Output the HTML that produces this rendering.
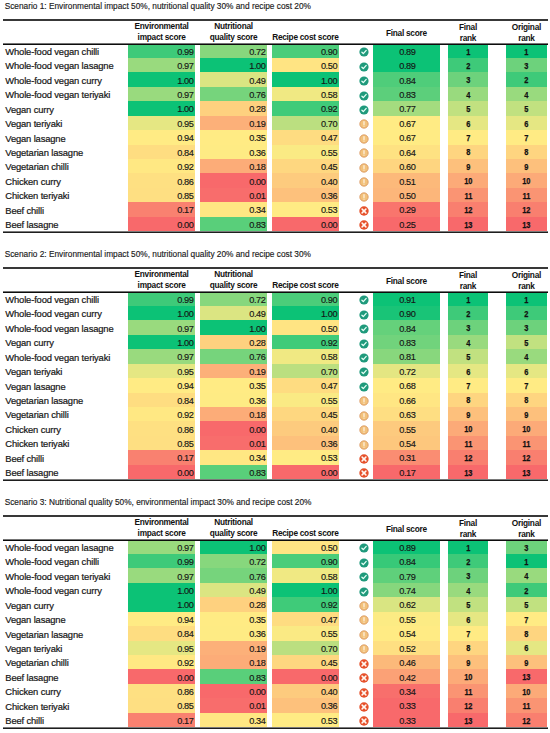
<!DOCTYPE html>
<html><head><meta charset="utf-8"><style>
html,body{margin:0;padding:0;background:#fff;}
body{width:550px;height:733px;position:relative;overflow:hidden;font-family:"Liberation Sans",sans-serif;color:#1a1a1a;}
.a{position:absolute;}
.t{position:absolute;white-space:nowrap;line-height:1;}
.title{font-size:8.3px;color:#1a1a1a;letter-spacing:0px;-webkit-text-stroke:0.15px #1a1a1a;}
.rule{position:absolute;left:3px;width:544.5px;background:#262626;}
.hd{font-size:8.3px;font-weight:bold;text-align:center;color:#111;letter-spacing:-0.27px;}
.nm{font-size:9.4px;color:#151515;letter-spacing:-0.14px;-webkit-text-stroke:0.2px #151515;}
.num{font-size:9.2px;letter-spacing:-0.42px;color:#151515;-webkit-text-stroke:0.15px #151515;}
.rk{font-size:9.3px;font-weight:bold;letter-spacing:-0.2px;color:#111;transform:scaleX(0.8);transform-origin:50% 50%;-webkit-text-stroke:0.25px #111;}
.cell{position:absolute;}
.ic{position:absolute;width:10px;height:10px;}
.ic svg{display:block;}
</style></head><body>

<div class="t title" style="left:4.7px;top:2.17px">Scenario 1: Environmental impact 50%, nutritional quality 30% and recipe cost 20%</div>
<div class="rule" style="top:19px;height:2px;background:#383838"></div>
<div class="t hd" style="left:117.7px;width:87.8px;top:21.57px">Environmental</div>
<div class="t hd" style="left:117.7px;width:87.8px;top:32.77px">impact score</div>
<div class="t hd" style="left:189.8px;width:87.6px;top:21.57px">Nutritional</div>
<div class="t hd" style="left:189.8px;width:87.6px;top:32.77px">quality score</div>
<div class="t hd" style="left:261.7px;width:87.4px;top:33.07px">Recipe cost score</div>
<div class="t hd" style="left:362.7px;width:87.4px;top:28.57px">Final score</div>
<div class="t hd" style="left:437.6px;width:60.7px;top:23.07px">Final</div>
<div class="t hd" style="left:437.6px;width:60.7px;top:34.07px">rank</div>
<div class="t hd" style="left:496.1px;width:60.7px;top:23.07px">Original</div>
<div class="t hd" style="left:496.1px;width:60.7px;top:34.07px">rank</div>
<div class="t nm" style="left:5.3px;top:47.06px">Whole-food vegan chilli</div>
<div class="cell" style="left:127.7px;width:67.8px;top:43.6px;height:14.42px;background:rgb(62,202,121)"></div>
<div class="t num" style="left:127.7px;width:65.8px;top:47.73px;text-align:right">0.99</div>
<div class="cell" style="left:199.8px;width:67.6px;top:43.6px;height:14.42px;background:rgb(135,215,125)"></div>
<div class="t num" style="left:199.8px;width:65.6px;top:47.73px;text-align:right">0.72</div>
<div class="cell" style="left:271.7px;width:67.4px;top:43.6px;height:14.42px;background:rgb(75,205,122)"></div>
<div class="t num" style="left:271.7px;width:65.4px;top:47.73px;text-align:right">0.90</div>
<div class="ic" style="left:359.3px;top:47.31px"><svg width="10" height="10" viewBox="0 0 10 10"><circle cx="5" cy="5" r="4.6" fill="#1f9a7c"/><path d="M2.9 5.3 L4.3 6.6 L7.2 3.4" stroke="#e6fff6" stroke-width="1.3" fill="none" stroke-linecap="round" stroke-linejoin="round"/></svg></div>
<div class="cell" style="left:372.7px;width:67.4px;top:43.6px;height:14.42px;background:rgb(12,194,118)"></div>
<div class="t num" style="left:373.7px;width:67.4px;top:47.73px;text-align:center">0.89</div>
<div class="cell" style="left:447.6px;width:40.7px;top:43.6px;height:14.42px;background:rgb(12,194,118)"></div>
<div class="t rk" style="left:447.6px;width:40.7px;top:47.55px;text-align:center">1</div>
<div class="cell" style="left:506.1px;width:40.7px;top:43.6px;height:14.42px;background:rgb(12,194,118)"></div>
<div class="t rk" style="left:506.1px;width:40.7px;top:47.55px;text-align:center">1</div>
<div class="t nm" style="left:5.3px;top:61.48px">Whole-food vegan lasagne</div>
<div class="cell" style="left:127.7px;width:67.8px;top:58.02px;height:14.42px;background:rgb(153,218,126)"></div>
<div class="t num" style="left:127.7px;width:65.8px;top:62.15px;text-align:right">0.97</div>
<div class="cell" style="left:199.8px;width:67.6px;top:58.02px;height:14.42px;background:rgb(12,194,118)"></div>
<div class="t num" style="left:199.8px;width:65.6px;top:62.15px;text-align:right">1.00</div>
<div class="cell" style="left:271.7px;width:67.4px;top:58.02px;height:14.42px;background:rgb(255,228,131)"></div>
<div class="t num" style="left:271.7px;width:65.4px;top:62.15px;text-align:right">0.50</div>
<div class="ic" style="left:359.3px;top:61.73px"><svg width="10" height="10" viewBox="0 0 10 10"><circle cx="5" cy="5" r="4.6" fill="#1f9a7c"/><path d="M2.9 5.3 L4.3 6.6 L7.2 3.4" stroke="#e6fff6" stroke-width="1.3" fill="none" stroke-linecap="round" stroke-linejoin="round"/></svg></div>
<div class="cell" style="left:372.7px;width:67.4px;top:58.02px;height:14.42px;background:rgb(12,194,118)"></div>
<div class="t num" style="left:373.7px;width:67.4px;top:62.15px;text-align:center">0.89</div>
<div class="cell" style="left:447.6px;width:40.7px;top:58.02px;height:14.42px;background:rgb(62,202,121)"></div>
<div class="t rk" style="left:447.6px;width:40.7px;top:61.97px;text-align:center">2</div>
<div class="cell" style="left:506.1px;width:40.7px;top:58.02px;height:14.42px;background:rgb(109,210,124)"></div>
<div class="t rk" style="left:506.1px;width:40.7px;top:61.97px;text-align:center">3</div>
<div class="t nm" style="left:5.3px;top:75.9px">Whole-food vegan curry</div>
<div class="cell" style="left:127.7px;width:67.8px;top:72.44px;height:14.42px;background:rgb(12,194,118)"></div>
<div class="t num" style="left:127.7px;width:65.8px;top:76.57px;text-align:right">1.00</div>
<div class="cell" style="left:199.8px;width:67.6px;top:72.44px;height:14.42px;background:rgb(219,229,130)"></div>
<div class="t num" style="left:199.8px;width:65.6px;top:76.57px;text-align:right">0.49</div>
<div class="cell" style="left:271.7px;width:67.4px;top:72.44px;height:14.42px;background:rgb(12,194,118)"></div>
<div class="t num" style="left:271.7px;width:65.4px;top:76.57px;text-align:right">1.00</div>
<div class="ic" style="left:359.3px;top:76.15px"><svg width="10" height="10" viewBox="0 0 10 10"><circle cx="5" cy="5" r="4.6" fill="#1f9a7c"/><path d="M2.9 5.3 L4.3 6.6 L7.2 3.4" stroke="#e6fff6" stroke-width="1.3" fill="none" stroke-linecap="round" stroke-linejoin="round"/></svg></div>
<div class="cell" style="left:372.7px;width:67.4px;top:72.44px;height:14.42px;background:rgb(79,205,122)"></div>
<div class="t num" style="left:373.7px;width:67.4px;top:76.57px;text-align:center">0.84</div>
<div class="cell" style="left:447.6px;width:40.7px;top:72.44px;height:14.42px;background:rgb(109,210,124)"></div>
<div class="t rk" style="left:447.6px;width:40.7px;top:76.39px;text-align:center">3</div>
<div class="cell" style="left:506.1px;width:40.7px;top:72.44px;height:14.42px;background:rgb(62,202,121)"></div>
<div class="t rk" style="left:506.1px;width:40.7px;top:76.39px;text-align:center">2</div>
<div class="t nm" style="left:5.3px;top:90.32px">Whole-food vegan teriyaki</div>
<div class="cell" style="left:127.7px;width:67.8px;top:86.86px;height:14.42px;background:rgb(153,218,126)"></div>
<div class="t num" style="left:127.7px;width:65.8px;top:90.99px;text-align:right">0.97</div>
<div class="cell" style="left:199.8px;width:67.6px;top:86.86px;height:14.42px;background:rgb(118,212,124)"></div>
<div class="t num" style="left:199.8px;width:65.6px;top:90.99px;text-align:right">0.76</div>
<div class="cell" style="left:271.7px;width:67.4px;top:86.86px;height:14.42px;background:rgb(240,233,131)"></div>
<div class="t num" style="left:271.7px;width:65.4px;top:90.99px;text-align:right">0.58</div>
<div class="ic" style="left:359.3px;top:90.57px"><svg width="10" height="10" viewBox="0 0 10 10"><circle cx="5" cy="5" r="4.6" fill="#1f9a7c"/><path d="M2.9 5.3 L4.3 6.6 L7.2 3.4" stroke="#e6fff6" stroke-width="1.3" fill="none" stroke-linecap="round" stroke-linejoin="round"/></svg></div>
<div class="cell" style="left:372.7px;width:67.4px;top:86.86px;height:14.42px;background:rgb(92,207,123)"></div>
<div class="t num" style="left:373.7px;width:67.4px;top:90.99px;text-align:center">0.83</div>
<div class="cell" style="left:447.6px;width:40.7px;top:86.86px;height:14.42px;background:rgb(153,218,126)"></div>
<div class="t rk" style="left:447.6px;width:40.7px;top:90.81px;text-align:center">4</div>
<div class="cell" style="left:506.1px;width:40.7px;top:86.86px;height:14.42px;background:rgb(153,218,126)"></div>
<div class="t rk" style="left:506.1px;width:40.7px;top:90.81px;text-align:center">4</div>
<div class="t nm" style="left:5.3px;top:104.74px">Vegan curry</div>
<div class="cell" style="left:127.7px;width:67.8px;top:101.28px;height:14.42px;background:rgb(12,194,118)"></div>
<div class="t num" style="left:127.7px;width:65.8px;top:105.41px;text-align:right">1.00</div>
<div class="cell" style="left:199.8px;width:67.6px;top:101.28px;height:14.42px;background:rgb(254,209,127)"></div>
<div class="t num" style="left:199.8px;width:65.6px;top:105.41px;text-align:right">0.28</div>
<div class="cell" style="left:271.7px;width:67.4px;top:101.28px;height:14.42px;background:rgb(63,203,121)"></div>
<div class="t num" style="left:271.7px;width:65.4px;top:105.41px;text-align:right">0.92</div>
<div class="ic" style="left:359.3px;top:104.99px"><svg width="10" height="10" viewBox="0 0 10 10"><circle cx="5" cy="5" r="4.6" fill="#1f9a7c"/><path d="M2.9 5.3 L4.3 6.6 L7.2 3.4" stroke="#e6fff6" stroke-width="1.3" fill="none" stroke-linecap="round" stroke-linejoin="round"/></svg></div>
<div class="cell" style="left:372.7px;width:67.4px;top:101.28px;height:14.42px;background:rgb(164,220,127)"></div>
<div class="t num" style="left:373.7px;width:67.4px;top:105.41px;text-align:center">0.77</div>
<div class="cell" style="left:447.6px;width:40.7px;top:101.28px;height:14.42px;background:rgb(193,225,128)"></div>
<div class="t rk" style="left:447.6px;width:40.7px;top:105.23px;text-align:center">5</div>
<div class="cell" style="left:506.1px;width:40.7px;top:101.28px;height:14.42px;background:rgb(193,225,128)"></div>
<div class="t rk" style="left:506.1px;width:40.7px;top:105.23px;text-align:center">5</div>
<div class="t nm" style="left:5.3px;top:119.16px">Vegan teriyaki</div>
<div class="cell" style="left:127.7px;width:67.8px;top:115.7px;height:14.42px;background:rgb(229,231,131)"></div>
<div class="t num" style="left:127.7px;width:65.8px;top:119.83px;text-align:right">0.95</div>
<div class="cell" style="left:199.8px;width:67.6px;top:115.7px;height:14.42px;background:rgb(252,176,121)"></div>
<div class="t num" style="left:199.8px;width:65.6px;top:119.83px;text-align:right">0.19</div>
<div class="cell" style="left:271.7px;width:67.4px;top:115.7px;height:14.42px;background:rgb(187,223,128)"></div>
<div class="t num" style="left:271.7px;width:65.4px;top:119.83px;text-align:right">0.70</div>
<div class="ic" style="left:359.3px;top:119.41px"><svg width="10" height="10" viewBox="0 0 10 10"><circle cx="5" cy="5" r="4.2" fill="#f2c27c" stroke="#d8935a" stroke-width="0.8"/><path d="M5 2.7 L5 5.5" stroke="#fff3e6" stroke-width="1.2" stroke-linecap="round"/><circle cx="5" cy="7.1" r="0.65" fill="#fff3e6"/></svg></div>
<div class="cell" style="left:372.7px;width:67.4px;top:115.7px;height:14.42px;background:rgb(255,235,132)"></div>
<div class="t num" style="left:373.7px;width:67.4px;top:119.83px;text-align:center">0.67</div>
<div class="cell" style="left:447.6px;width:40.7px;top:115.7px;height:14.42px;background:rgb(229,231,131)"></div>
<div class="t rk" style="left:447.6px;width:40.7px;top:119.65px;text-align:center">6</div>
<div class="cell" style="left:506.1px;width:40.7px;top:115.7px;height:14.42px;background:rgb(229,231,131)"></div>
<div class="t rk" style="left:506.1px;width:40.7px;top:119.65px;text-align:center">6</div>
<div class="t nm" style="left:5.3px;top:133.58px">Vegan lasagne</div>
<div class="cell" style="left:127.7px;width:67.8px;top:130.12px;height:14.42px;background:rgb(255,235,132)"></div>
<div class="t num" style="left:127.7px;width:65.8px;top:134.25px;text-align:right">0.94</div>
<div class="cell" style="left:199.8px;width:67.6px;top:130.12px;height:14.42px;background:rgb(255,235,132)"></div>
<div class="t num" style="left:199.8px;width:65.6px;top:134.25px;text-align:right">0.35</div>
<div class="cell" style="left:271.7px;width:67.4px;top:130.12px;height:14.42px;background:rgb(254,220,129)"></div>
<div class="t num" style="left:271.7px;width:65.4px;top:134.25px;text-align:right">0.47</div>
<div class="ic" style="left:359.3px;top:133.83px"><svg width="10" height="10" viewBox="0 0 10 10"><circle cx="5" cy="5" r="4.2" fill="#f2c27c" stroke="#d8935a" stroke-width="0.8"/><path d="M5 2.7 L5 5.5" stroke="#fff3e6" stroke-width="1.2" stroke-linecap="round"/><circle cx="5" cy="7.1" r="0.65" fill="#fff3e6"/></svg></div>
<div class="cell" style="left:372.7px;width:67.4px;top:130.12px;height:14.42px;background:rgb(255,235,132)"></div>
<div class="t num" style="left:373.7px;width:67.4px;top:134.25px;text-align:center">0.67</div>
<div class="cell" style="left:447.6px;width:40.7px;top:130.12px;height:14.42px;background:rgb(255,235,132)"></div>
<div class="t rk" style="left:447.6px;width:40.7px;top:134.07px;text-align:center">7</div>
<div class="cell" style="left:506.1px;width:40.7px;top:130.12px;height:14.42px;background:rgb(255,235,132)"></div>
<div class="t rk" style="left:506.1px;width:40.7px;top:134.07px;text-align:center">7</div>
<div class="t nm" style="left:5.3px;top:148px">Vegetarian lasagne</div>
<div class="cell" style="left:127.7px;width:67.8px;top:144.54px;height:14.42px;background:rgb(254,221,129)"></div>
<div class="t num" style="left:127.7px;width:65.8px;top:148.67px;text-align:right">0.84</div>
<div class="cell" style="left:199.8px;width:67.6px;top:144.54px;height:14.42px;background:rgb(254,235,132)"></div>
<div class="t num" style="left:199.8px;width:65.6px;top:148.67px;text-align:right">0.36</div>
<div class="cell" style="left:271.7px;width:67.4px;top:144.54px;height:14.42px;background:rgb(250,234,132)"></div>
<div class="t num" style="left:271.7px;width:65.4px;top:148.67px;text-align:right">0.55</div>
<div class="ic" style="left:359.3px;top:148.25px"><svg width="10" height="10" viewBox="0 0 10 10"><circle cx="5" cy="5" r="4.2" fill="#f2c27c" stroke="#d8935a" stroke-width="0.8"/><path d="M5 2.7 L5 5.5" stroke="#fff3e6" stroke-width="1.2" stroke-linecap="round"/><circle cx="5" cy="7.1" r="0.65" fill="#fff3e6"/></svg></div>
<div class="cell" style="left:372.7px;width:67.4px;top:144.54px;height:14.42px;background:rgb(254,226,130)"></div>
<div class="t num" style="left:373.7px;width:67.4px;top:148.67px;text-align:center">0.64</div>
<div class="cell" style="left:447.6px;width:40.7px;top:144.54px;height:14.42px;background:rgb(254,213,128)"></div>
<div class="t rk" style="left:447.6px;width:40.7px;top:148.49px;text-align:center">8</div>
<div class="cell" style="left:506.1px;width:40.7px;top:144.54px;height:14.42px;background:rgb(254,213,128)"></div>
<div class="t rk" style="left:506.1px;width:40.7px;top:148.49px;text-align:center">8</div>
<div class="t nm" style="left:5.3px;top:162.42px">Vegetarian chilli</div>
<div class="cell" style="left:127.7px;width:67.8px;top:158.96px;height:14.42px;background:rgb(255,232,131)"></div>
<div class="t num" style="left:127.7px;width:65.8px;top:163.09px;text-align:right">0.92</div>
<div class="cell" style="left:199.8px;width:67.6px;top:158.96px;height:14.42px;background:rgb(252,172,120)"></div>
<div class="t num" style="left:199.8px;width:65.6px;top:163.09px;text-align:right">0.18</div>
<div class="cell" style="left:271.7px;width:67.4px;top:158.96px;height:14.42px;background:rgb(254,215,128)"></div>
<div class="t num" style="left:271.7px;width:65.4px;top:163.09px;text-align:right">0.45</div>
<div class="ic" style="left:359.3px;top:162.67px"><svg width="10" height="10" viewBox="0 0 10 10"><circle cx="5" cy="5" r="4.2" fill="#f2c27c" stroke="#d8935a" stroke-width="0.8"/><path d="M5 2.7 L5 5.5" stroke="#fff3e6" stroke-width="1.2" stroke-linecap="round"/><circle cx="5" cy="7.1" r="0.65" fill="#fff3e6"/></svg></div>
<div class="cell" style="left:372.7px;width:67.4px;top:158.96px;height:14.42px;background:rgb(254,213,128)"></div>
<div class="t num" style="left:373.7px;width:67.4px;top:163.09px;text-align:center">0.60</div>
<div class="cell" style="left:447.6px;width:40.7px;top:158.96px;height:14.42px;background:rgb(253,192,124)"></div>
<div class="t rk" style="left:447.6px;width:40.7px;top:162.91px;text-align:center">9</div>
<div class="cell" style="left:506.1px;width:40.7px;top:158.96px;height:14.42px;background:rgb(253,192,124)"></div>
<div class="t rk" style="left:506.1px;width:40.7px;top:162.91px;text-align:center">9</div>
<div class="t nm" style="left:5.3px;top:176.84px">Chicken curry</div>
<div class="cell" style="left:127.7px;width:67.8px;top:173.38px;height:14.42px;background:rgb(254,224,130)"></div>
<div class="t num" style="left:127.7px;width:65.8px;top:177.51px;text-align:right">0.86</div>
<div class="cell" style="left:199.8px;width:67.6px;top:173.38px;height:14.42px;background:rgb(248,105,107)"></div>
<div class="t num" style="left:199.8px;width:65.6px;top:177.51px;text-align:right">0.00</div>
<div class="cell" style="left:271.7px;width:67.4px;top:173.38px;height:14.42px;background:rgb(253,203,126)"></div>
<div class="t num" style="left:271.7px;width:65.4px;top:177.51px;text-align:right">0.40</div>
<div class="ic" style="left:359.3px;top:177.09px"><svg width="10" height="10" viewBox="0 0 10 10"><circle cx="5" cy="5" r="4.2" fill="#f2c27c" stroke="#d8935a" stroke-width="0.8"/><path d="M5 2.7 L5 5.5" stroke="#fff3e6" stroke-width="1.2" stroke-linecap="round"/><circle cx="5" cy="7.1" r="0.65" fill="#fff3e6"/></svg></div>
<div class="cell" style="left:372.7px;width:67.4px;top:173.38px;height:14.42px;background:rgb(252,185,122)"></div>
<div class="t num" style="left:373.7px;width:67.4px;top:177.51px;text-align:center">0.51</div>
<div class="cell" style="left:447.6px;width:40.7px;top:173.38px;height:14.42px;background:rgb(252,170,120)"></div>
<div class="t rk" style="left:447.6px;width:40.7px;top:177.33px;text-align:center">10</div>
<div class="cell" style="left:506.1px;width:40.7px;top:173.38px;height:14.42px;background:rgb(252,170,120)"></div>
<div class="t rk" style="left:506.1px;width:40.7px;top:177.33px;text-align:center">10</div>
<div class="t nm" style="left:5.3px;top:191.26px">Chicken teriyaki</div>
<div class="cell" style="left:127.7px;width:67.8px;top:187.8px;height:14.42px;background:rgb(254,223,130)"></div>
<div class="t num" style="left:127.7px;width:65.8px;top:191.93px;text-align:right">0.85</div>
<div class="cell" style="left:199.8px;width:67.6px;top:187.8px;height:14.42px;background:rgb(248,109,108)"></div>
<div class="t num" style="left:199.8px;width:65.6px;top:191.93px;text-align:right">0.01</div>
<div class="cell" style="left:271.7px;width:67.4px;top:187.8px;height:14.42px;background:rgb(253,193,124)"></div>
<div class="t num" style="left:271.7px;width:65.4px;top:191.93px;text-align:right">0.36</div>
<div class="ic" style="left:359.3px;top:191.51px"><svg width="10" height="10" viewBox="0 0 10 10"><circle cx="5" cy="5" r="4.2" fill="#f2c27c" stroke="#d8935a" stroke-width="0.8"/><path d="M5 2.7 L5 5.5" stroke="#fff3e6" stroke-width="1.2" stroke-linecap="round"/><circle cx="5" cy="7.1" r="0.65" fill="#fff3e6"/></svg></div>
<div class="cell" style="left:372.7px;width:67.4px;top:187.8px;height:14.42px;background:rgb(252,182,122)"></div>
<div class="t num" style="left:373.7px;width:67.4px;top:191.93px;text-align:center">0.50</div>
<div class="cell" style="left:447.6px;width:40.7px;top:187.8px;height:14.42px;background:rgb(250,148,115)"></div>
<div class="t rk" style="left:447.6px;width:40.7px;top:191.75px;text-align:center">11</div>
<div class="cell" style="left:506.1px;width:40.7px;top:187.8px;height:14.42px;background:rgb(250,148,115)"></div>
<div class="t rk" style="left:506.1px;width:40.7px;top:191.75px;text-align:center">11</div>
<div class="t nm" style="left:5.3px;top:205.68px">Beef chilli</div>
<div class="cell" style="left:127.7px;width:67.8px;top:202.22px;height:14.42px;background:rgb(249,129,112)"></div>
<div class="t num" style="left:127.7px;width:65.8px;top:206.35px;text-align:right">0.17</div>
<div class="cell" style="left:199.8px;width:67.6px;top:202.22px;height:14.42px;background:rgb(255,231,131)"></div>
<div class="t num" style="left:199.8px;width:65.6px;top:206.35px;text-align:right">0.34</div>
<div class="cell" style="left:271.7px;width:67.4px;top:202.22px;height:14.42px;background:rgb(255,235,132)"></div>
<div class="t num" style="left:271.7px;width:65.4px;top:206.35px;text-align:right">0.53</div>
<div class="ic" style="left:359.3px;top:205.93px"><svg width="10" height="10" viewBox="0 0 10 10"><circle cx="5" cy="5" r="4.7" fill="#e6512b"/><path d="M3.1 3.1 L6.9 6.9 M6.9 3.1 L3.1 6.9" stroke="#fff8f2" stroke-width="1.5" stroke-linecap="round"/></svg></div>
<div class="cell" style="left:372.7px;width:67.4px;top:202.22px;height:14.42px;background:rgb(249,117,109)"></div>
<div class="t num" style="left:373.7px;width:67.4px;top:206.35px;text-align:center">0.29</div>
<div class="cell" style="left:447.6px;width:40.7px;top:202.22px;height:14.42px;background:rgb(249,127,111)"></div>
<div class="t rk" style="left:447.6px;width:40.7px;top:206.17px;text-align:center">12</div>
<div class="cell" style="left:506.1px;width:40.7px;top:202.22px;height:14.42px;background:rgb(249,127,111)"></div>
<div class="t rk" style="left:506.1px;width:40.7px;top:206.17px;text-align:center">12</div>
<div class="t nm" style="left:5.3px;top:220.1px">Beef lasagne</div>
<div class="cell" style="left:127.7px;width:67.8px;top:216.64px;height:14.42px;background:rgb(248,105,107)"></div>
<div class="t num" style="left:127.7px;width:65.8px;top:220.77px;text-align:right">0.00</div>
<div class="cell" style="left:199.8px;width:67.6px;top:216.64px;height:14.42px;background:rgb(89,207,122)"></div>
<div class="t num" style="left:199.8px;width:65.6px;top:220.77px;text-align:right">0.83</div>
<div class="cell" style="left:271.7px;width:67.4px;top:216.64px;height:14.42px;background:rgb(248,105,107)"></div>
<div class="t num" style="left:271.7px;width:65.4px;top:220.77px;text-align:right">0.00</div>
<div class="ic" style="left:359.3px;top:220.35px"><svg width="10" height="10" viewBox="0 0 10 10"><circle cx="5" cy="5" r="4.7" fill="#e6512b"/><path d="M3.1 3.1 L6.9 6.9 M6.9 3.1 L3.1 6.9" stroke="#fff8f2" stroke-width="1.5" stroke-linecap="round"/></svg></div>
<div class="cell" style="left:372.7px;width:67.4px;top:216.64px;height:14.42px;background:rgb(248,105,107)"></div>
<div class="t num" style="left:373.7px;width:67.4px;top:220.77px;text-align:center">0.25</div>
<div class="cell" style="left:447.6px;width:40.7px;top:216.64px;height:14.42px;background:rgb(248,105,107)"></div>
<div class="t rk" style="left:447.6px;width:40.7px;top:220.59px;text-align:center">13</div>
<div class="cell" style="left:506.1px;width:40.7px;top:216.64px;height:14.42px;background:rgb(248,105,107)"></div>
<div class="t rk" style="left:506.1px;width:40.7px;top:220.59px;text-align:center">13</div>
<div class="rule" style="top:43px;height:1px;background:#747474"></div>
<div class="rule" style="top:44px;height:1px;background:#0c0c0c"></div>
<div class="rule" style="top:231px;height:1px;background:#7a7a7a"></div>
<div class="rule" style="top:232px;height:1px;background:#1e1e1e"></div>
<div class="t title" style="left:4.7px;top:250.17px">Scenario 2: Environmental impact 50%, nutritional quality 20% and recipe cost 30%</div>
<div class="rule" style="top:267px;height:2px;background:#383838"></div>
<div class="t hd" style="left:117.7px;width:87.8px;top:269.57px">Environmental</div>
<div class="t hd" style="left:117.7px;width:87.8px;top:280.77px">impact score</div>
<div class="t hd" style="left:189.8px;width:87.6px;top:269.57px">Nutritional</div>
<div class="t hd" style="left:189.8px;width:87.6px;top:280.77px">quality score</div>
<div class="t hd" style="left:261.7px;width:87.4px;top:281.07px">Recipe cost score</div>
<div class="t hd" style="left:362.7px;width:87.4px;top:276.57px">Final score</div>
<div class="t hd" style="left:437.6px;width:60.7px;top:271.07px">Final</div>
<div class="t hd" style="left:437.6px;width:60.7px;top:282.07px">rank</div>
<div class="t hd" style="left:496.1px;width:60.7px;top:271.07px">Original</div>
<div class="t hd" style="left:496.1px;width:60.7px;top:282.07px">rank</div>
<div class="t nm" style="left:5.3px;top:295.06px">Whole-food vegan chilli</div>
<div class="cell" style="left:127.7px;width:67.8px;top:291.6px;height:14.42px;background:rgb(62,202,121)"></div>
<div class="t num" style="left:127.7px;width:65.8px;top:295.73px;text-align:right">0.99</div>
<div class="cell" style="left:199.8px;width:67.6px;top:291.6px;height:14.42px;background:rgb(135,215,125)"></div>
<div class="t num" style="left:199.8px;width:65.6px;top:295.73px;text-align:right">0.72</div>
<div class="cell" style="left:271.7px;width:67.4px;top:291.6px;height:14.42px;background:rgb(75,205,122)"></div>
<div class="t num" style="left:271.7px;width:65.4px;top:295.73px;text-align:right">0.90</div>
<div class="ic" style="left:359.3px;top:295.31px"><svg width="10" height="10" viewBox="0 0 10 10"><circle cx="5" cy="5" r="4.6" fill="#1f9a7c"/><path d="M2.9 5.3 L4.3 6.6 L7.2 3.4" stroke="#e6fff6" stroke-width="1.3" fill="none" stroke-linecap="round" stroke-linejoin="round"/></svg></div>
<div class="cell" style="left:372.7px;width:67.4px;top:291.6px;height:14.42px;background:rgb(12,194,118)"></div>
<div class="t num" style="left:373.7px;width:67.4px;top:295.73px;text-align:center">0.91</div>
<div class="cell" style="left:447.6px;width:40.7px;top:291.6px;height:14.42px;background:rgb(12,194,118)"></div>
<div class="t rk" style="left:447.6px;width:40.7px;top:295.55px;text-align:center">1</div>
<div class="cell" style="left:506.1px;width:40.7px;top:291.6px;height:14.42px;background:rgb(12,194,118)"></div>
<div class="t rk" style="left:506.1px;width:40.7px;top:295.55px;text-align:center">1</div>
<div class="t nm" style="left:5.3px;top:309.48px">Whole-food vegan curry</div>
<div class="cell" style="left:127.7px;width:67.8px;top:306.02px;height:14.42px;background:rgb(12,194,118)"></div>
<div class="t num" style="left:127.7px;width:65.8px;top:310.15px;text-align:right">1.00</div>
<div class="cell" style="left:199.8px;width:67.6px;top:306.02px;height:14.42px;background:rgb(219,229,130)"></div>
<div class="t num" style="left:199.8px;width:65.6px;top:310.15px;text-align:right">0.49</div>
<div class="cell" style="left:271.7px;width:67.4px;top:306.02px;height:14.42px;background:rgb(12,194,118)"></div>
<div class="t num" style="left:271.7px;width:65.4px;top:310.15px;text-align:right">1.00</div>
<div class="ic" style="left:359.3px;top:309.73px"><svg width="10" height="10" viewBox="0 0 10 10"><circle cx="5" cy="5" r="4.6" fill="#1f9a7c"/><path d="M2.9 5.3 L4.3 6.6 L7.2 3.4" stroke="#e6fff6" stroke-width="1.3" fill="none" stroke-linecap="round" stroke-linejoin="round"/></svg></div>
<div class="cell" style="left:372.7px;width:67.4px;top:306.02px;height:14.42px;background:rgb(25,196,119)"></div>
<div class="t num" style="left:373.7px;width:67.4px;top:310.15px;text-align:center">0.90</div>
<div class="cell" style="left:447.6px;width:40.7px;top:306.02px;height:14.42px;background:rgb(62,202,121)"></div>
<div class="t rk" style="left:447.6px;width:40.7px;top:309.97px;text-align:center">2</div>
<div class="cell" style="left:506.1px;width:40.7px;top:306.02px;height:14.42px;background:rgb(62,202,121)"></div>
<div class="t rk" style="left:506.1px;width:40.7px;top:309.97px;text-align:center">2</div>
<div class="t nm" style="left:5.3px;top:323.9px">Whole-food vegan lasagne</div>
<div class="cell" style="left:127.7px;width:67.8px;top:320.44px;height:14.42px;background:rgb(153,218,126)"></div>
<div class="t num" style="left:127.7px;width:65.8px;top:324.57px;text-align:right">0.97</div>
<div class="cell" style="left:199.8px;width:67.6px;top:320.44px;height:14.42px;background:rgb(12,194,118)"></div>
<div class="t num" style="left:199.8px;width:65.6px;top:324.57px;text-align:right">1.00</div>
<div class="cell" style="left:271.7px;width:67.4px;top:320.44px;height:14.42px;background:rgb(255,228,131)"></div>
<div class="t num" style="left:271.7px;width:65.4px;top:324.57px;text-align:right">0.50</div>
<div class="ic" style="left:359.3px;top:324.15px"><svg width="10" height="10" viewBox="0 0 10 10"><circle cx="5" cy="5" r="4.6" fill="#1f9a7c"/><path d="M2.9 5.3 L4.3 6.6 L7.2 3.4" stroke="#e6fff6" stroke-width="1.3" fill="none" stroke-linecap="round" stroke-linejoin="round"/></svg></div>
<div class="cell" style="left:372.7px;width:67.4px;top:320.44px;height:14.42px;background:rgb(101,209,123)"></div>
<div class="t num" style="left:373.7px;width:67.4px;top:324.57px;text-align:center">0.84</div>
<div class="cell" style="left:447.6px;width:40.7px;top:320.44px;height:14.42px;background:rgb(109,210,124)"></div>
<div class="t rk" style="left:447.6px;width:40.7px;top:324.39px;text-align:center">3</div>
<div class="cell" style="left:506.1px;width:40.7px;top:320.44px;height:14.42px;background:rgb(109,210,124)"></div>
<div class="t rk" style="left:506.1px;width:40.7px;top:324.39px;text-align:center">3</div>
<div class="t nm" style="left:5.3px;top:338.32px">Vegan curry</div>
<div class="cell" style="left:127.7px;width:67.8px;top:334.86px;height:14.42px;background:rgb(12,194,118)"></div>
<div class="t num" style="left:127.7px;width:65.8px;top:338.99px;text-align:right">1.00</div>
<div class="cell" style="left:199.8px;width:67.6px;top:334.86px;height:14.42px;background:rgb(254,209,127)"></div>
<div class="t num" style="left:199.8px;width:65.6px;top:338.99px;text-align:right">0.28</div>
<div class="cell" style="left:271.7px;width:67.4px;top:334.86px;height:14.42px;background:rgb(63,203,121)"></div>
<div class="t num" style="left:271.7px;width:65.4px;top:338.99px;text-align:right">0.92</div>
<div class="ic" style="left:359.3px;top:338.57px"><svg width="10" height="10" viewBox="0 0 10 10"><circle cx="5" cy="5" r="4.6" fill="#1f9a7c"/><path d="M2.9 5.3 L4.3 6.6 L7.2 3.4" stroke="#e6fff6" stroke-width="1.3" fill="none" stroke-linecap="round" stroke-linejoin="round"/></svg></div>
<div class="cell" style="left:372.7px;width:67.4px;top:334.86px;height:14.42px;background:rgb(113,211,124)"></div>
<div class="t num" style="left:373.7px;width:67.4px;top:338.99px;text-align:center">0.83</div>
<div class="cell" style="left:447.6px;width:40.7px;top:334.86px;height:14.42px;background:rgb(153,218,126)"></div>
<div class="t rk" style="left:447.6px;width:40.7px;top:338.81px;text-align:center">4</div>
<div class="cell" style="left:506.1px;width:40.7px;top:334.86px;height:14.42px;background:rgb(193,225,128)"></div>
<div class="t rk" style="left:506.1px;width:40.7px;top:338.81px;text-align:center">5</div>
<div class="t nm" style="left:5.3px;top:352.74px">Whole-food vegan teriyaki</div>
<div class="cell" style="left:127.7px;width:67.8px;top:349.28px;height:14.42px;background:rgb(153,218,126)"></div>
<div class="t num" style="left:127.7px;width:65.8px;top:353.41px;text-align:right">0.97</div>
<div class="cell" style="left:199.8px;width:67.6px;top:349.28px;height:14.42px;background:rgb(118,212,124)"></div>
<div class="t num" style="left:199.8px;width:65.6px;top:353.41px;text-align:right">0.76</div>
<div class="cell" style="left:271.7px;width:67.4px;top:349.28px;height:14.42px;background:rgb(240,233,131)"></div>
<div class="t num" style="left:271.7px;width:65.4px;top:353.41px;text-align:right">0.58</div>
<div class="ic" style="left:359.3px;top:352.99px"><svg width="10" height="10" viewBox="0 0 10 10"><circle cx="5" cy="5" r="4.6" fill="#1f9a7c"/><path d="M2.9 5.3 L4.3 6.6 L7.2 3.4" stroke="#e6fff6" stroke-width="1.3" fill="none" stroke-linecap="round" stroke-linejoin="round"/></svg></div>
<div class="cell" style="left:372.7px;width:67.4px;top:349.28px;height:14.42px;background:rgb(136,215,125)"></div>
<div class="t num" style="left:373.7px;width:67.4px;top:353.41px;text-align:center">0.81</div>
<div class="cell" style="left:447.6px;width:40.7px;top:349.28px;height:14.42px;background:rgb(193,225,128)"></div>
<div class="t rk" style="left:447.6px;width:40.7px;top:353.23px;text-align:center">5</div>
<div class="cell" style="left:506.1px;width:40.7px;top:349.28px;height:14.42px;background:rgb(153,218,126)"></div>
<div class="t rk" style="left:506.1px;width:40.7px;top:353.23px;text-align:center">4</div>
<div class="t nm" style="left:5.3px;top:367.16px">Vegan teriyaki</div>
<div class="cell" style="left:127.7px;width:67.8px;top:363.7px;height:14.42px;background:rgb(229,231,131)"></div>
<div class="t num" style="left:127.7px;width:65.8px;top:367.83px;text-align:right">0.95</div>
<div class="cell" style="left:199.8px;width:67.6px;top:363.7px;height:14.42px;background:rgb(252,176,121)"></div>
<div class="t num" style="left:199.8px;width:65.6px;top:367.83px;text-align:right">0.19</div>
<div class="cell" style="left:271.7px;width:67.4px;top:363.7px;height:14.42px;background:rgb(187,223,128)"></div>
<div class="t num" style="left:271.7px;width:65.4px;top:367.83px;text-align:right">0.70</div>
<div class="ic" style="left:359.3px;top:367.41px"><svg width="10" height="10" viewBox="0 0 10 10"><circle cx="5" cy="5" r="4.6" fill="#1f9a7c"/><path d="M2.9 5.3 L4.3 6.6 L7.2 3.4" stroke="#e6fff6" stroke-width="1.3" fill="none" stroke-linecap="round" stroke-linejoin="round"/></svg></div>
<div class="cell" style="left:372.7px;width:67.4px;top:363.7px;height:14.42px;background:rgb(228,230,130)"></div>
<div class="t num" style="left:373.7px;width:67.4px;top:367.83px;text-align:center">0.72</div>
<div class="cell" style="left:447.6px;width:40.7px;top:363.7px;height:14.42px;background:rgb(229,231,131)"></div>
<div class="t rk" style="left:447.6px;width:40.7px;top:367.65px;text-align:center">6</div>
<div class="cell" style="left:506.1px;width:40.7px;top:363.7px;height:14.42px;background:rgb(229,231,131)"></div>
<div class="t rk" style="left:506.1px;width:40.7px;top:367.65px;text-align:center">6</div>
<div class="t nm" style="left:5.3px;top:381.58px">Vegan lasagne</div>
<div class="cell" style="left:127.7px;width:67.8px;top:378.12px;height:14.42px;background:rgb(255,235,132)"></div>
<div class="t num" style="left:127.7px;width:65.8px;top:382.25px;text-align:right">0.94</div>
<div class="cell" style="left:199.8px;width:67.6px;top:378.12px;height:14.42px;background:rgb(255,235,132)"></div>
<div class="t num" style="left:199.8px;width:65.6px;top:382.25px;text-align:right">0.35</div>
<div class="cell" style="left:271.7px;width:67.4px;top:378.12px;height:14.42px;background:rgb(254,220,129)"></div>
<div class="t num" style="left:271.7px;width:65.4px;top:382.25px;text-align:right">0.47</div>
<div class="ic" style="left:359.3px;top:381.83px"><svg width="10" height="10" viewBox="0 0 10 10"><circle cx="5" cy="5" r="4.6" fill="#1f9a7c"/><path d="M2.9 5.3 L4.3 6.6 L7.2 3.4" stroke="#e6fff6" stroke-width="1.3" fill="none" stroke-linecap="round" stroke-linejoin="round"/></svg></div>
<div class="cell" style="left:372.7px;width:67.4px;top:378.12px;height:14.42px;background:rgb(255,235,132)"></div>
<div class="t num" style="left:373.7px;width:67.4px;top:382.25px;text-align:center">0.68</div>
<div class="cell" style="left:447.6px;width:40.7px;top:378.12px;height:14.42px;background:rgb(255,235,132)"></div>
<div class="t rk" style="left:447.6px;width:40.7px;top:382.07px;text-align:center">7</div>
<div class="cell" style="left:506.1px;width:40.7px;top:378.12px;height:14.42px;background:rgb(255,235,132)"></div>
<div class="t rk" style="left:506.1px;width:40.7px;top:382.07px;text-align:center">7</div>
<div class="t nm" style="left:5.3px;top:396px">Vegetarian lasagne</div>
<div class="cell" style="left:127.7px;width:67.8px;top:392.54px;height:14.42px;background:rgb(254,221,129)"></div>
<div class="t num" style="left:127.7px;width:65.8px;top:396.67px;text-align:right">0.84</div>
<div class="cell" style="left:199.8px;width:67.6px;top:392.54px;height:14.42px;background:rgb(254,235,132)"></div>
<div class="t num" style="left:199.8px;width:65.6px;top:396.67px;text-align:right">0.36</div>
<div class="cell" style="left:271.7px;width:67.4px;top:392.54px;height:14.42px;background:rgb(250,234,132)"></div>
<div class="t num" style="left:271.7px;width:65.4px;top:396.67px;text-align:right">0.55</div>
<div class="ic" style="left:359.3px;top:396.25px"><svg width="10" height="10" viewBox="0 0 10 10"><circle cx="5" cy="5" r="4.2" fill="#f2c27c" stroke="#d8935a" stroke-width="0.8"/><path d="M5 2.7 L5 5.5" stroke="#fff3e6" stroke-width="1.2" stroke-linecap="round"/><circle cx="5" cy="7.1" r="0.65" fill="#fff3e6"/></svg></div>
<div class="cell" style="left:372.7px;width:67.4px;top:392.54px;height:14.42px;background:rgb(255,230,131)"></div>
<div class="t num" style="left:373.7px;width:67.4px;top:396.67px;text-align:center">0.66</div>
<div class="cell" style="left:447.6px;width:40.7px;top:392.54px;height:14.42px;background:rgb(254,213,128)"></div>
<div class="t rk" style="left:447.6px;width:40.7px;top:396.49px;text-align:center">8</div>
<div class="cell" style="left:506.1px;width:40.7px;top:392.54px;height:14.42px;background:rgb(254,213,128)"></div>
<div class="t rk" style="left:506.1px;width:40.7px;top:396.49px;text-align:center">8</div>
<div class="t nm" style="left:5.3px;top:410.42px">Vegetarian chilli</div>
<div class="cell" style="left:127.7px;width:67.8px;top:406.96px;height:14.42px;background:rgb(255,232,131)"></div>
<div class="t num" style="left:127.7px;width:65.8px;top:411.09px;text-align:right">0.92</div>
<div class="cell" style="left:199.8px;width:67.6px;top:406.96px;height:14.42px;background:rgb(252,172,120)"></div>
<div class="t num" style="left:199.8px;width:65.6px;top:411.09px;text-align:right">0.18</div>
<div class="cell" style="left:271.7px;width:67.4px;top:406.96px;height:14.42px;background:rgb(254,215,128)"></div>
<div class="t num" style="left:271.7px;width:65.4px;top:411.09px;text-align:right">0.45</div>
<div class="ic" style="left:359.3px;top:410.67px"><svg width="10" height="10" viewBox="0 0 10 10"><circle cx="5" cy="5" r="4.2" fill="#f2c27c" stroke="#d8935a" stroke-width="0.8"/><path d="M5 2.7 L5 5.5" stroke="#fff3e6" stroke-width="1.2" stroke-linecap="round"/><circle cx="5" cy="7.1" r="0.65" fill="#fff3e6"/></svg></div>
<div class="cell" style="left:372.7px;width:67.4px;top:406.96px;height:14.42px;background:rgb(254,222,130)"></div>
<div class="t num" style="left:373.7px;width:67.4px;top:411.09px;text-align:center">0.63</div>
<div class="cell" style="left:447.6px;width:40.7px;top:406.96px;height:14.42px;background:rgb(253,192,124)"></div>
<div class="t rk" style="left:447.6px;width:40.7px;top:410.91px;text-align:center">9</div>
<div class="cell" style="left:506.1px;width:40.7px;top:406.96px;height:14.42px;background:rgb(253,192,124)"></div>
<div class="t rk" style="left:506.1px;width:40.7px;top:410.91px;text-align:center">9</div>
<div class="t nm" style="left:5.3px;top:424.84px">Chicken curry</div>
<div class="cell" style="left:127.7px;width:67.8px;top:421.38px;height:14.42px;background:rgb(254,224,130)"></div>
<div class="t num" style="left:127.7px;width:65.8px;top:425.51px;text-align:right">0.86</div>
<div class="cell" style="left:199.8px;width:67.6px;top:421.38px;height:14.42px;background:rgb(248,105,107)"></div>
<div class="t num" style="left:199.8px;width:65.6px;top:425.51px;text-align:right">0.00</div>
<div class="cell" style="left:271.7px;width:67.4px;top:421.38px;height:14.42px;background:rgb(253,203,126)"></div>
<div class="t num" style="left:271.7px;width:65.4px;top:425.51px;text-align:right">0.40</div>
<div class="ic" style="left:359.3px;top:425.09px"><svg width="10" height="10" viewBox="0 0 10 10"><circle cx="5" cy="5" r="4.2" fill="#f2c27c" stroke="#d8935a" stroke-width="0.8"/><path d="M5 2.7 L5 5.5" stroke="#fff3e6" stroke-width="1.2" stroke-linecap="round"/><circle cx="5" cy="7.1" r="0.65" fill="#fff3e6"/></svg></div>
<div class="cell" style="left:372.7px;width:67.4px;top:421.38px;height:14.42px;background:rgb(253,202,126)"></div>
<div class="t num" style="left:373.7px;width:67.4px;top:425.51px;text-align:center">0.55</div>
<div class="cell" style="left:447.6px;width:40.7px;top:421.38px;height:14.42px;background:rgb(252,170,120)"></div>
<div class="t rk" style="left:447.6px;width:40.7px;top:425.33px;text-align:center">10</div>
<div class="cell" style="left:506.1px;width:40.7px;top:421.38px;height:14.42px;background:rgb(252,170,120)"></div>
<div class="t rk" style="left:506.1px;width:40.7px;top:425.33px;text-align:center">10</div>
<div class="t nm" style="left:5.3px;top:439.26px">Chicken teriyaki</div>
<div class="cell" style="left:127.7px;width:67.8px;top:435.8px;height:14.42px;background:rgb(254,223,130)"></div>
<div class="t num" style="left:127.7px;width:65.8px;top:439.93px;text-align:right">0.85</div>
<div class="cell" style="left:199.8px;width:67.6px;top:435.8px;height:14.42px;background:rgb(248,109,108)"></div>
<div class="t num" style="left:199.8px;width:65.6px;top:439.93px;text-align:right">0.01</div>
<div class="cell" style="left:271.7px;width:67.4px;top:435.8px;height:14.42px;background:rgb(253,193,124)"></div>
<div class="t num" style="left:271.7px;width:65.4px;top:439.93px;text-align:right">0.36</div>
<div class="ic" style="left:359.3px;top:439.51px"><svg width="10" height="10" viewBox="0 0 10 10"><circle cx="5" cy="5" r="4.2" fill="#f2c27c" stroke="#d8935a" stroke-width="0.8"/><path d="M5 2.7 L5 5.5" stroke="#fff3e6" stroke-width="1.2" stroke-linecap="round"/><circle cx="5" cy="7.1" r="0.65" fill="#fff3e6"/></svg></div>
<div class="cell" style="left:372.7px;width:67.4px;top:435.8px;height:14.42px;background:rgb(253,199,125)"></div>
<div class="t num" style="left:373.7px;width:67.4px;top:439.93px;text-align:center">0.54</div>
<div class="cell" style="left:447.6px;width:40.7px;top:435.8px;height:14.42px;background:rgb(250,148,115)"></div>
<div class="t rk" style="left:447.6px;width:40.7px;top:439.75px;text-align:center">11</div>
<div class="cell" style="left:506.1px;width:40.7px;top:435.8px;height:14.42px;background:rgb(250,148,115)"></div>
<div class="t rk" style="left:506.1px;width:40.7px;top:439.75px;text-align:center">11</div>
<div class="t nm" style="left:5.3px;top:453.68px">Beef chilli</div>
<div class="cell" style="left:127.7px;width:67.8px;top:450.22px;height:14.42px;background:rgb(249,129,112)"></div>
<div class="t num" style="left:127.7px;width:65.8px;top:454.35px;text-align:right">0.17</div>
<div class="cell" style="left:199.8px;width:67.6px;top:450.22px;height:14.42px;background:rgb(255,231,131)"></div>
<div class="t num" style="left:199.8px;width:65.6px;top:454.35px;text-align:right">0.34</div>
<div class="cell" style="left:271.7px;width:67.4px;top:450.22px;height:14.42px;background:rgb(255,235,132)"></div>
<div class="t num" style="left:271.7px;width:65.4px;top:454.35px;text-align:right">0.53</div>
<div class="ic" style="left:359.3px;top:453.93px"><svg width="10" height="10" viewBox="0 0 10 10"><circle cx="5" cy="5" r="4.7" fill="#e6512b"/><path d="M3.1 3.1 L6.9 6.9 M6.9 3.1 L3.1 6.9" stroke="#fff8f2" stroke-width="1.5" stroke-linecap="round"/></svg></div>
<div class="cell" style="left:372.7px;width:67.4px;top:450.22px;height:14.42px;background:rgb(250,141,114)"></div>
<div class="t num" style="left:373.7px;width:67.4px;top:454.35px;text-align:center">0.31</div>
<div class="cell" style="left:447.6px;width:40.7px;top:450.22px;height:14.42px;background:rgb(249,127,111)"></div>
<div class="t rk" style="left:447.6px;width:40.7px;top:454.17px;text-align:center">12</div>
<div class="cell" style="left:506.1px;width:40.7px;top:450.22px;height:14.42px;background:rgb(249,127,111)"></div>
<div class="t rk" style="left:506.1px;width:40.7px;top:454.17px;text-align:center">12</div>
<div class="t nm" style="left:5.3px;top:468.1px">Beef lasagne</div>
<div class="cell" style="left:127.7px;width:67.8px;top:464.64px;height:14.42px;background:rgb(248,105,107)"></div>
<div class="t num" style="left:127.7px;width:65.8px;top:468.77px;text-align:right">0.00</div>
<div class="cell" style="left:199.8px;width:67.6px;top:464.64px;height:14.42px;background:rgb(89,207,122)"></div>
<div class="t num" style="left:199.8px;width:65.6px;top:468.77px;text-align:right">0.83</div>
<div class="cell" style="left:271.7px;width:67.4px;top:464.64px;height:14.42px;background:rgb(248,105,107)"></div>
<div class="t num" style="left:271.7px;width:65.4px;top:468.77px;text-align:right">0.00</div>
<div class="ic" style="left:359.3px;top:468.35px"><svg width="10" height="10" viewBox="0 0 10 10"><circle cx="5" cy="5" r="4.7" fill="#e6512b"/><path d="M3.1 3.1 L6.9 6.9 M6.9 3.1 L3.1 6.9" stroke="#fff8f2" stroke-width="1.5" stroke-linecap="round"/></svg></div>
<div class="cell" style="left:372.7px;width:67.4px;top:464.64px;height:14.42px;background:rgb(248,105,107)"></div>
<div class="t num" style="left:373.7px;width:67.4px;top:468.77px;text-align:center">0.17</div>
<div class="cell" style="left:447.6px;width:40.7px;top:464.64px;height:14.42px;background:rgb(248,105,107)"></div>
<div class="t rk" style="left:447.6px;width:40.7px;top:468.59px;text-align:center">13</div>
<div class="cell" style="left:506.1px;width:40.7px;top:464.64px;height:14.42px;background:rgb(248,105,107)"></div>
<div class="t rk" style="left:506.1px;width:40.7px;top:468.59px;text-align:center">13</div>
<div class="rule" style="top:291px;height:1px;background:#747474"></div>
<div class="rule" style="top:292px;height:1px;background:#0c0c0c"></div>
<div class="rule" style="top:479px;height:1px;background:#7a7a7a"></div>
<div class="rule" style="top:480px;height:1px;background:#1e1e1e"></div>
<div class="t title" style="left:4.7px;top:498.17px">Scenario 3: Nutritional quality 50%, environmental impact 30% and recipe cost 20%</div>
<div class="rule" style="top:515px;height:2px;background:#383838"></div>
<div class="t hd" style="left:117.7px;width:87.8px;top:517.57px">Environmental</div>
<div class="t hd" style="left:117.7px;width:87.8px;top:528.77px">impact score</div>
<div class="t hd" style="left:189.8px;width:87.6px;top:517.57px">Nutritional</div>
<div class="t hd" style="left:189.8px;width:87.6px;top:528.77px">quality score</div>
<div class="t hd" style="left:261.7px;width:87.4px;top:529.07px">Recipe cost score</div>
<div class="t hd" style="left:362.7px;width:87.4px;top:524.57px">Final score</div>
<div class="t hd" style="left:437.6px;width:60.7px;top:519.07px">Final</div>
<div class="t hd" style="left:437.6px;width:60.7px;top:530.07px">rank</div>
<div class="t hd" style="left:496.1px;width:60.7px;top:519.07px">Original</div>
<div class="t hd" style="left:496.1px;width:60.7px;top:530.07px">rank</div>
<div class="t nm" style="left:5.3px;top:543.06px">Whole-food vegan lasagne</div>
<div class="cell" style="left:127.7px;width:67.8px;top:539.6px;height:14.42px;background:rgb(153,218,126)"></div>
<div class="t num" style="left:127.7px;width:65.8px;top:543.73px;text-align:right">0.97</div>
<div class="cell" style="left:199.8px;width:67.6px;top:539.6px;height:14.42px;background:rgb(12,194,118)"></div>
<div class="t num" style="left:199.8px;width:65.6px;top:543.73px;text-align:right">1.00</div>
<div class="cell" style="left:271.7px;width:67.4px;top:539.6px;height:14.42px;background:rgb(255,228,131)"></div>
<div class="t num" style="left:271.7px;width:65.4px;top:543.73px;text-align:right">0.50</div>
<div class="ic" style="left:359.3px;top:543.31px"><svg width="10" height="10" viewBox="0 0 10 10"><circle cx="5" cy="5" r="4.6" fill="#1f9a7c"/><path d="M2.9 5.3 L4.3 6.6 L7.2 3.4" stroke="#e6fff6" stroke-width="1.3" fill="none" stroke-linecap="round" stroke-linejoin="round"/></svg></div>
<div class="cell" style="left:372.7px;width:67.4px;top:539.6px;height:14.42px;background:rgb(12,194,118)"></div>
<div class="t num" style="left:373.7px;width:67.4px;top:543.73px;text-align:center">0.89</div>
<div class="cell" style="left:447.6px;width:40.7px;top:539.6px;height:14.42px;background:rgb(12,194,118)"></div>
<div class="t rk" style="left:447.6px;width:40.7px;top:543.55px;text-align:center">1</div>
<div class="cell" style="left:506.1px;width:40.7px;top:539.6px;height:14.42px;background:rgb(109,210,124)"></div>
<div class="t rk" style="left:506.1px;width:40.7px;top:543.55px;text-align:center">3</div>
<div class="t nm" style="left:5.3px;top:557.48px">Whole-food vegan chilli</div>
<div class="cell" style="left:127.7px;width:67.8px;top:554.02px;height:14.42px;background:rgb(62,202,121)"></div>
<div class="t num" style="left:127.7px;width:65.8px;top:558.15px;text-align:right">0.99</div>
<div class="cell" style="left:199.8px;width:67.6px;top:554.02px;height:14.42px;background:rgb(135,215,125)"></div>
<div class="t num" style="left:199.8px;width:65.6px;top:558.15px;text-align:right">0.72</div>
<div class="cell" style="left:271.7px;width:67.4px;top:554.02px;height:14.42px;background:rgb(75,205,122)"></div>
<div class="t num" style="left:271.7px;width:65.4px;top:558.15px;text-align:right">0.90</div>
<div class="ic" style="left:359.3px;top:557.73px"><svg width="10" height="10" viewBox="0 0 10 10"><circle cx="5" cy="5" r="4.6" fill="#1f9a7c"/><path d="M2.9 5.3 L4.3 6.6 L7.2 3.4" stroke="#e6fff6" stroke-width="1.3" fill="none" stroke-linecap="round" stroke-linejoin="round"/></svg></div>
<div class="cell" style="left:372.7px;width:67.4px;top:554.02px;height:14.42px;background:rgb(55,201,120)"></div>
<div class="t num" style="left:373.7px;width:67.4px;top:558.15px;text-align:center">0.84</div>
<div class="cell" style="left:447.6px;width:40.7px;top:554.02px;height:14.42px;background:rgb(62,202,121)"></div>
<div class="t rk" style="left:447.6px;width:40.7px;top:557.97px;text-align:center">2</div>
<div class="cell" style="left:506.1px;width:40.7px;top:554.02px;height:14.42px;background:rgb(12,194,118)"></div>
<div class="t rk" style="left:506.1px;width:40.7px;top:557.97px;text-align:center">1</div>
<div class="t nm" style="left:5.3px;top:571.9px">Whole-food vegan teriyaki</div>
<div class="cell" style="left:127.7px;width:67.8px;top:568.44px;height:14.42px;background:rgb(153,218,126)"></div>
<div class="t num" style="left:127.7px;width:65.8px;top:572.57px;text-align:right">0.97</div>
<div class="cell" style="left:199.8px;width:67.6px;top:568.44px;height:14.42px;background:rgb(118,212,124)"></div>
<div class="t num" style="left:199.8px;width:65.6px;top:572.57px;text-align:right">0.76</div>
<div class="cell" style="left:271.7px;width:67.4px;top:568.44px;height:14.42px;background:rgb(240,233,131)"></div>
<div class="t num" style="left:271.7px;width:65.4px;top:572.57px;text-align:right">0.58</div>
<div class="ic" style="left:359.3px;top:572.15px"><svg width="10" height="10" viewBox="0 0 10 10"><circle cx="5" cy="5" r="4.6" fill="#1f9a7c"/><path d="M2.9 5.3 L4.3 6.6 L7.2 3.4" stroke="#e6fff6" stroke-width="1.3" fill="none" stroke-linecap="round" stroke-linejoin="round"/></svg></div>
<div class="cell" style="left:372.7px;width:67.4px;top:568.44px;height:14.42px;background:rgb(95,208,123)"></div>
<div class="t num" style="left:373.7px;width:67.4px;top:572.57px;text-align:center">0.79</div>
<div class="cell" style="left:447.6px;width:40.7px;top:568.44px;height:14.42px;background:rgb(109,210,124)"></div>
<div class="t rk" style="left:447.6px;width:40.7px;top:572.39px;text-align:center">3</div>
<div class="cell" style="left:506.1px;width:40.7px;top:568.44px;height:14.42px;background:rgb(153,218,126)"></div>
<div class="t rk" style="left:506.1px;width:40.7px;top:572.39px;text-align:center">4</div>
<div class="t nm" style="left:5.3px;top:586.32px">Whole-food vegan curry</div>
<div class="cell" style="left:127.7px;width:67.8px;top:582.86px;height:14.42px;background:rgb(12,194,118)"></div>
<div class="t num" style="left:127.7px;width:65.8px;top:586.99px;text-align:right">1.00</div>
<div class="cell" style="left:199.8px;width:67.6px;top:582.86px;height:14.42px;background:rgb(219,229,130)"></div>
<div class="t num" style="left:199.8px;width:65.6px;top:586.99px;text-align:right">0.49</div>
<div class="cell" style="left:271.7px;width:67.4px;top:582.86px;height:14.42px;background:rgb(12,194,118)"></div>
<div class="t num" style="left:271.7px;width:65.4px;top:586.99px;text-align:right">1.00</div>
<div class="ic" style="left:359.3px;top:586.57px"><svg width="10" height="10" viewBox="0 0 10 10"><circle cx="5" cy="5" r="4.6" fill="#1f9a7c"/><path d="M2.9 5.3 L4.3 6.6 L7.2 3.4" stroke="#e6fff6" stroke-width="1.3" fill="none" stroke-linecap="round" stroke-linejoin="round"/></svg></div>
<div class="cell" style="left:372.7px;width:67.4px;top:582.86px;height:14.42px;background:rgb(134,215,125)"></div>
<div class="t num" style="left:373.7px;width:67.4px;top:586.99px;text-align:center">0.74</div>
<div class="cell" style="left:447.6px;width:40.7px;top:582.86px;height:14.42px;background:rgb(153,218,126)"></div>
<div class="t rk" style="left:447.6px;width:40.7px;top:586.81px;text-align:center">4</div>
<div class="cell" style="left:506.1px;width:40.7px;top:582.86px;height:14.42px;background:rgb(62,202,121)"></div>
<div class="t rk" style="left:506.1px;width:40.7px;top:586.81px;text-align:center">2</div>
<div class="t nm" style="left:5.3px;top:600.74px">Vegan curry</div>
<div class="cell" style="left:127.7px;width:67.8px;top:597.28px;height:14.42px;background:rgb(12,194,118)"></div>
<div class="t num" style="left:127.7px;width:65.8px;top:601.41px;text-align:right">1.00</div>
<div class="cell" style="left:199.8px;width:67.6px;top:597.28px;height:14.42px;background:rgb(254,209,127)"></div>
<div class="t num" style="left:199.8px;width:65.6px;top:601.41px;text-align:right">0.28</div>
<div class="cell" style="left:271.7px;width:67.4px;top:597.28px;height:14.42px;background:rgb(63,203,121)"></div>
<div class="t num" style="left:271.7px;width:65.4px;top:601.41px;text-align:right">0.92</div>
<div class="ic" style="left:359.3px;top:600.99px"><svg width="10" height="10" viewBox="0 0 10 10"><circle cx="5" cy="5" r="4.2" fill="#f2c27c" stroke="#d8935a" stroke-width="0.8"/><path d="M5 2.7 L5 5.5" stroke="#fff3e6" stroke-width="1.2" stroke-linecap="round"/><circle cx="5" cy="7.1" r="0.65" fill="#fff3e6"/></svg></div>
<div class="cell" style="left:372.7px;width:67.4px;top:597.28px;height:14.42px;background:rgb(217,229,130)"></div>
<div class="t num" style="left:373.7px;width:67.4px;top:601.41px;text-align:center">0.62</div>
<div class="cell" style="left:447.6px;width:40.7px;top:597.28px;height:14.42px;background:rgb(193,225,128)"></div>
<div class="t rk" style="left:447.6px;width:40.7px;top:601.23px;text-align:center">5</div>
<div class="cell" style="left:506.1px;width:40.7px;top:597.28px;height:14.42px;background:rgb(193,225,128)"></div>
<div class="t rk" style="left:506.1px;width:40.7px;top:601.23px;text-align:center">5</div>
<div class="t nm" style="left:5.3px;top:615.16px">Vegan lasagne</div>
<div class="cell" style="left:127.7px;width:67.8px;top:611.7px;height:14.42px;background:rgb(255,235,132)"></div>
<div class="t num" style="left:127.7px;width:65.8px;top:615.83px;text-align:right">0.94</div>
<div class="cell" style="left:199.8px;width:67.6px;top:611.7px;height:14.42px;background:rgb(255,235,132)"></div>
<div class="t num" style="left:199.8px;width:65.6px;top:615.83px;text-align:right">0.35</div>
<div class="cell" style="left:271.7px;width:67.4px;top:611.7px;height:14.42px;background:rgb(254,220,129)"></div>
<div class="t num" style="left:271.7px;width:65.4px;top:615.83px;text-align:right">0.47</div>
<div class="ic" style="left:359.3px;top:615.41px"><svg width="10" height="10" viewBox="0 0 10 10"><circle cx="5" cy="5" r="4.2" fill="#f2c27c" stroke="#d8935a" stroke-width="0.8"/><path d="M5 2.7 L5 5.5" stroke="#fff3e6" stroke-width="1.2" stroke-linecap="round"/><circle cx="5" cy="7.1" r="0.65" fill="#fff3e6"/></svg></div>
<div class="cell" style="left:372.7px;width:67.4px;top:611.7px;height:14.42px;background:rgb(252,235,132)"></div>
<div class="t num" style="left:373.7px;width:67.4px;top:615.83px;text-align:center">0.55</div>
<div class="cell" style="left:447.6px;width:40.7px;top:611.7px;height:14.42px;background:rgb(229,231,131)"></div>
<div class="t rk" style="left:447.6px;width:40.7px;top:615.65px;text-align:center">6</div>
<div class="cell" style="left:506.1px;width:40.7px;top:611.7px;height:14.42px;background:rgb(255,235,132)"></div>
<div class="t rk" style="left:506.1px;width:40.7px;top:615.65px;text-align:center">7</div>
<div class="t nm" style="left:5.3px;top:629.58px">Vegetarian lasagne</div>
<div class="cell" style="left:127.7px;width:67.8px;top:626.12px;height:14.42px;background:rgb(254,221,129)"></div>
<div class="t num" style="left:127.7px;width:65.8px;top:630.25px;text-align:right">0.84</div>
<div class="cell" style="left:199.8px;width:67.6px;top:626.12px;height:14.42px;background:rgb(254,235,132)"></div>
<div class="t num" style="left:199.8px;width:65.6px;top:630.25px;text-align:right">0.36</div>
<div class="cell" style="left:271.7px;width:67.4px;top:626.12px;height:14.42px;background:rgb(250,234,132)"></div>
<div class="t num" style="left:271.7px;width:65.4px;top:630.25px;text-align:right">0.55</div>
<div class="ic" style="left:359.3px;top:629.83px"><svg width="10" height="10" viewBox="0 0 10 10"><circle cx="5" cy="5" r="4.2" fill="#f2c27c" stroke="#d8935a" stroke-width="0.8"/><path d="M5 2.7 L5 5.5" stroke="#fff3e6" stroke-width="1.2" stroke-linecap="round"/><circle cx="5" cy="7.1" r="0.65" fill="#fff3e6"/></svg></div>
<div class="cell" style="left:372.7px;width:67.4px;top:626.12px;height:14.42px;background:rgb(255,235,132)"></div>
<div class="t num" style="left:373.7px;width:67.4px;top:630.25px;text-align:center">0.54</div>
<div class="cell" style="left:447.6px;width:40.7px;top:626.12px;height:14.42px;background:rgb(255,235,132)"></div>
<div class="t rk" style="left:447.6px;width:40.7px;top:630.07px;text-align:center">7</div>
<div class="cell" style="left:506.1px;width:40.7px;top:626.12px;height:14.42px;background:rgb(254,213,128)"></div>
<div class="t rk" style="left:506.1px;width:40.7px;top:630.07px;text-align:center">8</div>
<div class="t nm" style="left:5.3px;top:644px">Vegan teriyaki</div>
<div class="cell" style="left:127.7px;width:67.8px;top:640.54px;height:14.42px;background:rgb(229,231,131)"></div>
<div class="t num" style="left:127.7px;width:65.8px;top:644.67px;text-align:right">0.95</div>
<div class="cell" style="left:199.8px;width:67.6px;top:640.54px;height:14.42px;background:rgb(252,176,121)"></div>
<div class="t num" style="left:199.8px;width:65.6px;top:644.67px;text-align:right">0.19</div>
<div class="cell" style="left:271.7px;width:67.4px;top:640.54px;height:14.42px;background:rgb(187,223,128)"></div>
<div class="t num" style="left:271.7px;width:65.4px;top:644.67px;text-align:right">0.70</div>
<div class="ic" style="left:359.3px;top:644.25px"><svg width="10" height="10" viewBox="0 0 10 10"><circle cx="5" cy="5" r="4.2" fill="#f2c27c" stroke="#d8935a" stroke-width="0.8"/><path d="M5 2.7 L5 5.5" stroke="#fff3e6" stroke-width="1.2" stroke-linecap="round"/><circle cx="5" cy="7.1" r="0.65" fill="#fff3e6"/></svg></div>
<div class="cell" style="left:372.7px;width:67.4px;top:640.54px;height:14.42px;background:rgb(254,223,130)"></div>
<div class="t num" style="left:373.7px;width:67.4px;top:644.67px;text-align:center">0.52</div>
<div class="cell" style="left:447.6px;width:40.7px;top:640.54px;height:14.42px;background:rgb(254,213,128)"></div>
<div class="t rk" style="left:447.6px;width:40.7px;top:644.49px;text-align:center">8</div>
<div class="cell" style="left:506.1px;width:40.7px;top:640.54px;height:14.42px;background:rgb(229,231,131)"></div>
<div class="t rk" style="left:506.1px;width:40.7px;top:644.49px;text-align:center">6</div>
<div class="t nm" style="left:5.3px;top:658.42px">Vegetarian chilli</div>
<div class="cell" style="left:127.7px;width:67.8px;top:654.96px;height:14.42px;background:rgb(255,232,131)"></div>
<div class="t num" style="left:127.7px;width:65.8px;top:659.09px;text-align:right">0.92</div>
<div class="cell" style="left:199.8px;width:67.6px;top:654.96px;height:14.42px;background:rgb(252,172,120)"></div>
<div class="t num" style="left:199.8px;width:65.6px;top:659.09px;text-align:right">0.18</div>
<div class="cell" style="left:271.7px;width:67.4px;top:654.96px;height:14.42px;background:rgb(254,215,128)"></div>
<div class="t num" style="left:271.7px;width:65.4px;top:659.09px;text-align:right">0.45</div>
<div class="ic" style="left:359.3px;top:658.67px"><svg width="10" height="10" viewBox="0 0 10 10"><circle cx="5" cy="5" r="4.7" fill="#e6512b"/><path d="M3.1 3.1 L6.9 6.9 M6.9 3.1 L3.1 6.9" stroke="#fff8f2" stroke-width="1.5" stroke-linecap="round"/></svg></div>
<div class="cell" style="left:372.7px;width:67.4px;top:654.96px;height:14.42px;background:rgb(252,185,122)"></div>
<div class="t num" style="left:373.7px;width:67.4px;top:659.09px;text-align:center">0.46</div>
<div class="cell" style="left:447.6px;width:40.7px;top:654.96px;height:14.42px;background:rgb(253,192,124)"></div>
<div class="t rk" style="left:447.6px;width:40.7px;top:658.91px;text-align:center">9</div>
<div class="cell" style="left:506.1px;width:40.7px;top:654.96px;height:14.42px;background:rgb(253,192,124)"></div>
<div class="t rk" style="left:506.1px;width:40.7px;top:658.91px;text-align:center">9</div>
<div class="t nm" style="left:5.3px;top:672.84px">Beef lasagne</div>
<div class="cell" style="left:127.7px;width:67.8px;top:669.38px;height:14.42px;background:rgb(248,105,107)"></div>
<div class="t num" style="left:127.7px;width:65.8px;top:673.51px;text-align:right">0.00</div>
<div class="cell" style="left:199.8px;width:67.6px;top:669.38px;height:14.42px;background:rgb(89,207,122)"></div>
<div class="t num" style="left:199.8px;width:65.6px;top:673.51px;text-align:right">0.83</div>
<div class="cell" style="left:271.7px;width:67.4px;top:669.38px;height:14.42px;background:rgb(248,105,107)"></div>
<div class="t num" style="left:271.7px;width:65.4px;top:673.51px;text-align:right">0.00</div>
<div class="ic" style="left:359.3px;top:673.09px"><svg width="10" height="10" viewBox="0 0 10 10"><circle cx="5" cy="5" r="4.7" fill="#e6512b"/><path d="M3.1 3.1 L6.9 6.9 M6.9 3.1 L3.1 6.9" stroke="#fff8f2" stroke-width="1.5" stroke-linecap="round"/></svg></div>
<div class="cell" style="left:372.7px;width:67.4px;top:669.38px;height:14.42px;background:rgb(251,161,118)"></div>
<div class="t num" style="left:373.7px;width:67.4px;top:673.51px;text-align:center">0.42</div>
<div class="cell" style="left:447.6px;width:40.7px;top:669.38px;height:14.42px;background:rgb(252,170,120)"></div>
<div class="t rk" style="left:447.6px;width:40.7px;top:673.33px;text-align:center">10</div>
<div class="cell" style="left:506.1px;width:40.7px;top:669.38px;height:14.42px;background:rgb(248,105,107)"></div>
<div class="t rk" style="left:506.1px;width:40.7px;top:673.33px;text-align:center">13</div>
<div class="t nm" style="left:5.3px;top:687.26px">Chicken curry</div>
<div class="cell" style="left:127.7px;width:67.8px;top:683.8px;height:14.42px;background:rgb(254,224,130)"></div>
<div class="t num" style="left:127.7px;width:65.8px;top:687.93px;text-align:right">0.86</div>
<div class="cell" style="left:199.8px;width:67.6px;top:683.8px;height:14.42px;background:rgb(248,105,107)"></div>
<div class="t num" style="left:199.8px;width:65.6px;top:687.93px;text-align:right">0.00</div>
<div class="cell" style="left:271.7px;width:67.4px;top:683.8px;height:14.42px;background:rgb(253,203,126)"></div>
<div class="t num" style="left:271.7px;width:65.4px;top:687.93px;text-align:right">0.40</div>
<div class="ic" style="left:359.3px;top:687.51px"><svg width="10" height="10" viewBox="0 0 10 10"><circle cx="5" cy="5" r="4.7" fill="#e6512b"/><path d="M3.1 3.1 L6.9 6.9 M6.9 3.1 L3.1 6.9" stroke="#fff8f2" stroke-width="1.5" stroke-linecap="round"/></svg></div>
<div class="cell" style="left:372.7px;width:67.4px;top:683.8px;height:14.42px;background:rgb(248,111,108)"></div>
<div class="t num" style="left:373.7px;width:67.4px;top:687.93px;text-align:center">0.34</div>
<div class="cell" style="left:447.6px;width:40.7px;top:683.8px;height:14.42px;background:rgb(250,148,115)"></div>
<div class="t rk" style="left:447.6px;width:40.7px;top:687.75px;text-align:center">11</div>
<div class="cell" style="left:506.1px;width:40.7px;top:683.8px;height:14.42px;background:rgb(252,170,120)"></div>
<div class="t rk" style="left:506.1px;width:40.7px;top:687.75px;text-align:center">10</div>
<div class="t nm" style="left:5.3px;top:701.68px">Chicken teriyaki</div>
<div class="cell" style="left:127.7px;width:67.8px;top:698.22px;height:14.42px;background:rgb(254,223,130)"></div>
<div class="t num" style="left:127.7px;width:65.8px;top:702.35px;text-align:right">0.85</div>
<div class="cell" style="left:199.8px;width:67.6px;top:698.22px;height:14.42px;background:rgb(248,109,108)"></div>
<div class="t num" style="left:199.8px;width:65.6px;top:702.35px;text-align:right">0.01</div>
<div class="cell" style="left:271.7px;width:67.4px;top:698.22px;height:14.42px;background:rgb(253,193,124)"></div>
<div class="t num" style="left:271.7px;width:65.4px;top:702.35px;text-align:right">0.36</div>
<div class="ic" style="left:359.3px;top:701.93px"><svg width="10" height="10" viewBox="0 0 10 10"><circle cx="5" cy="5" r="4.7" fill="#e6512b"/><path d="M3.1 3.1 L6.9 6.9 M6.9 3.1 L3.1 6.9" stroke="#fff8f2" stroke-width="1.5" stroke-linecap="round"/></svg></div>
<div class="cell" style="left:372.7px;width:67.4px;top:698.22px;height:14.42px;background:rgb(248,105,107)"></div>
<div class="t num" style="left:373.7px;width:67.4px;top:702.35px;text-align:center">0.33</div>
<div class="cell" style="left:447.6px;width:40.7px;top:698.22px;height:14.42px;background:rgb(249,127,111)"></div>
<div class="t rk" style="left:447.6px;width:40.7px;top:702.17px;text-align:center">12</div>
<div class="cell" style="left:506.1px;width:40.7px;top:698.22px;height:14.42px;background:rgb(250,148,115)"></div>
<div class="t rk" style="left:506.1px;width:40.7px;top:702.17px;text-align:center">11</div>
<div class="t nm" style="left:5.3px;top:716.1px">Beef chilli</div>
<div class="cell" style="left:127.7px;width:67.8px;top:712.64px;height:14.42px;background:rgb(249,129,112)"></div>
<div class="t num" style="left:127.7px;width:65.8px;top:716.77px;text-align:right">0.17</div>
<div class="cell" style="left:199.8px;width:67.6px;top:712.64px;height:14.42px;background:rgb(255,231,131)"></div>
<div class="t num" style="left:199.8px;width:65.6px;top:716.77px;text-align:right">0.34</div>
<div class="cell" style="left:271.7px;width:67.4px;top:712.64px;height:14.42px;background:rgb(255,235,132)"></div>
<div class="t num" style="left:271.7px;width:65.4px;top:716.77px;text-align:right">0.53</div>
<div class="ic" style="left:359.3px;top:716.35px"><svg width="10" height="10" viewBox="0 0 10 10"><circle cx="5" cy="5" r="4.7" fill="#e6512b"/><path d="M3.1 3.1 L6.9 6.9 M6.9 3.1 L3.1 6.9" stroke="#fff8f2" stroke-width="1.5" stroke-linecap="round"/></svg></div>
<div class="cell" style="left:372.7px;width:67.4px;top:712.64px;height:14.42px;background:rgb(248,105,107)"></div>
<div class="t num" style="left:373.7px;width:67.4px;top:716.77px;text-align:center">0.33</div>
<div class="cell" style="left:447.6px;width:40.7px;top:712.64px;height:14.42px;background:rgb(248,105,107)"></div>
<div class="t rk" style="left:447.6px;width:40.7px;top:716.59px;text-align:center">13</div>
<div class="cell" style="left:506.1px;width:40.7px;top:712.64px;height:14.42px;background:rgb(249,127,111)"></div>
<div class="t rk" style="left:506.1px;width:40.7px;top:716.59px;text-align:center">12</div>
<div class="rule" style="top:539px;height:1px;background:#747474"></div>
<div class="rule" style="top:540px;height:1px;background:#0c0c0c"></div>
<div class="rule" style="top:727px;height:1px;background:#7a7a7a"></div>
<div class="rule" style="top:728px;height:1px;background:#1e1e1e"></div>
</body></html>
